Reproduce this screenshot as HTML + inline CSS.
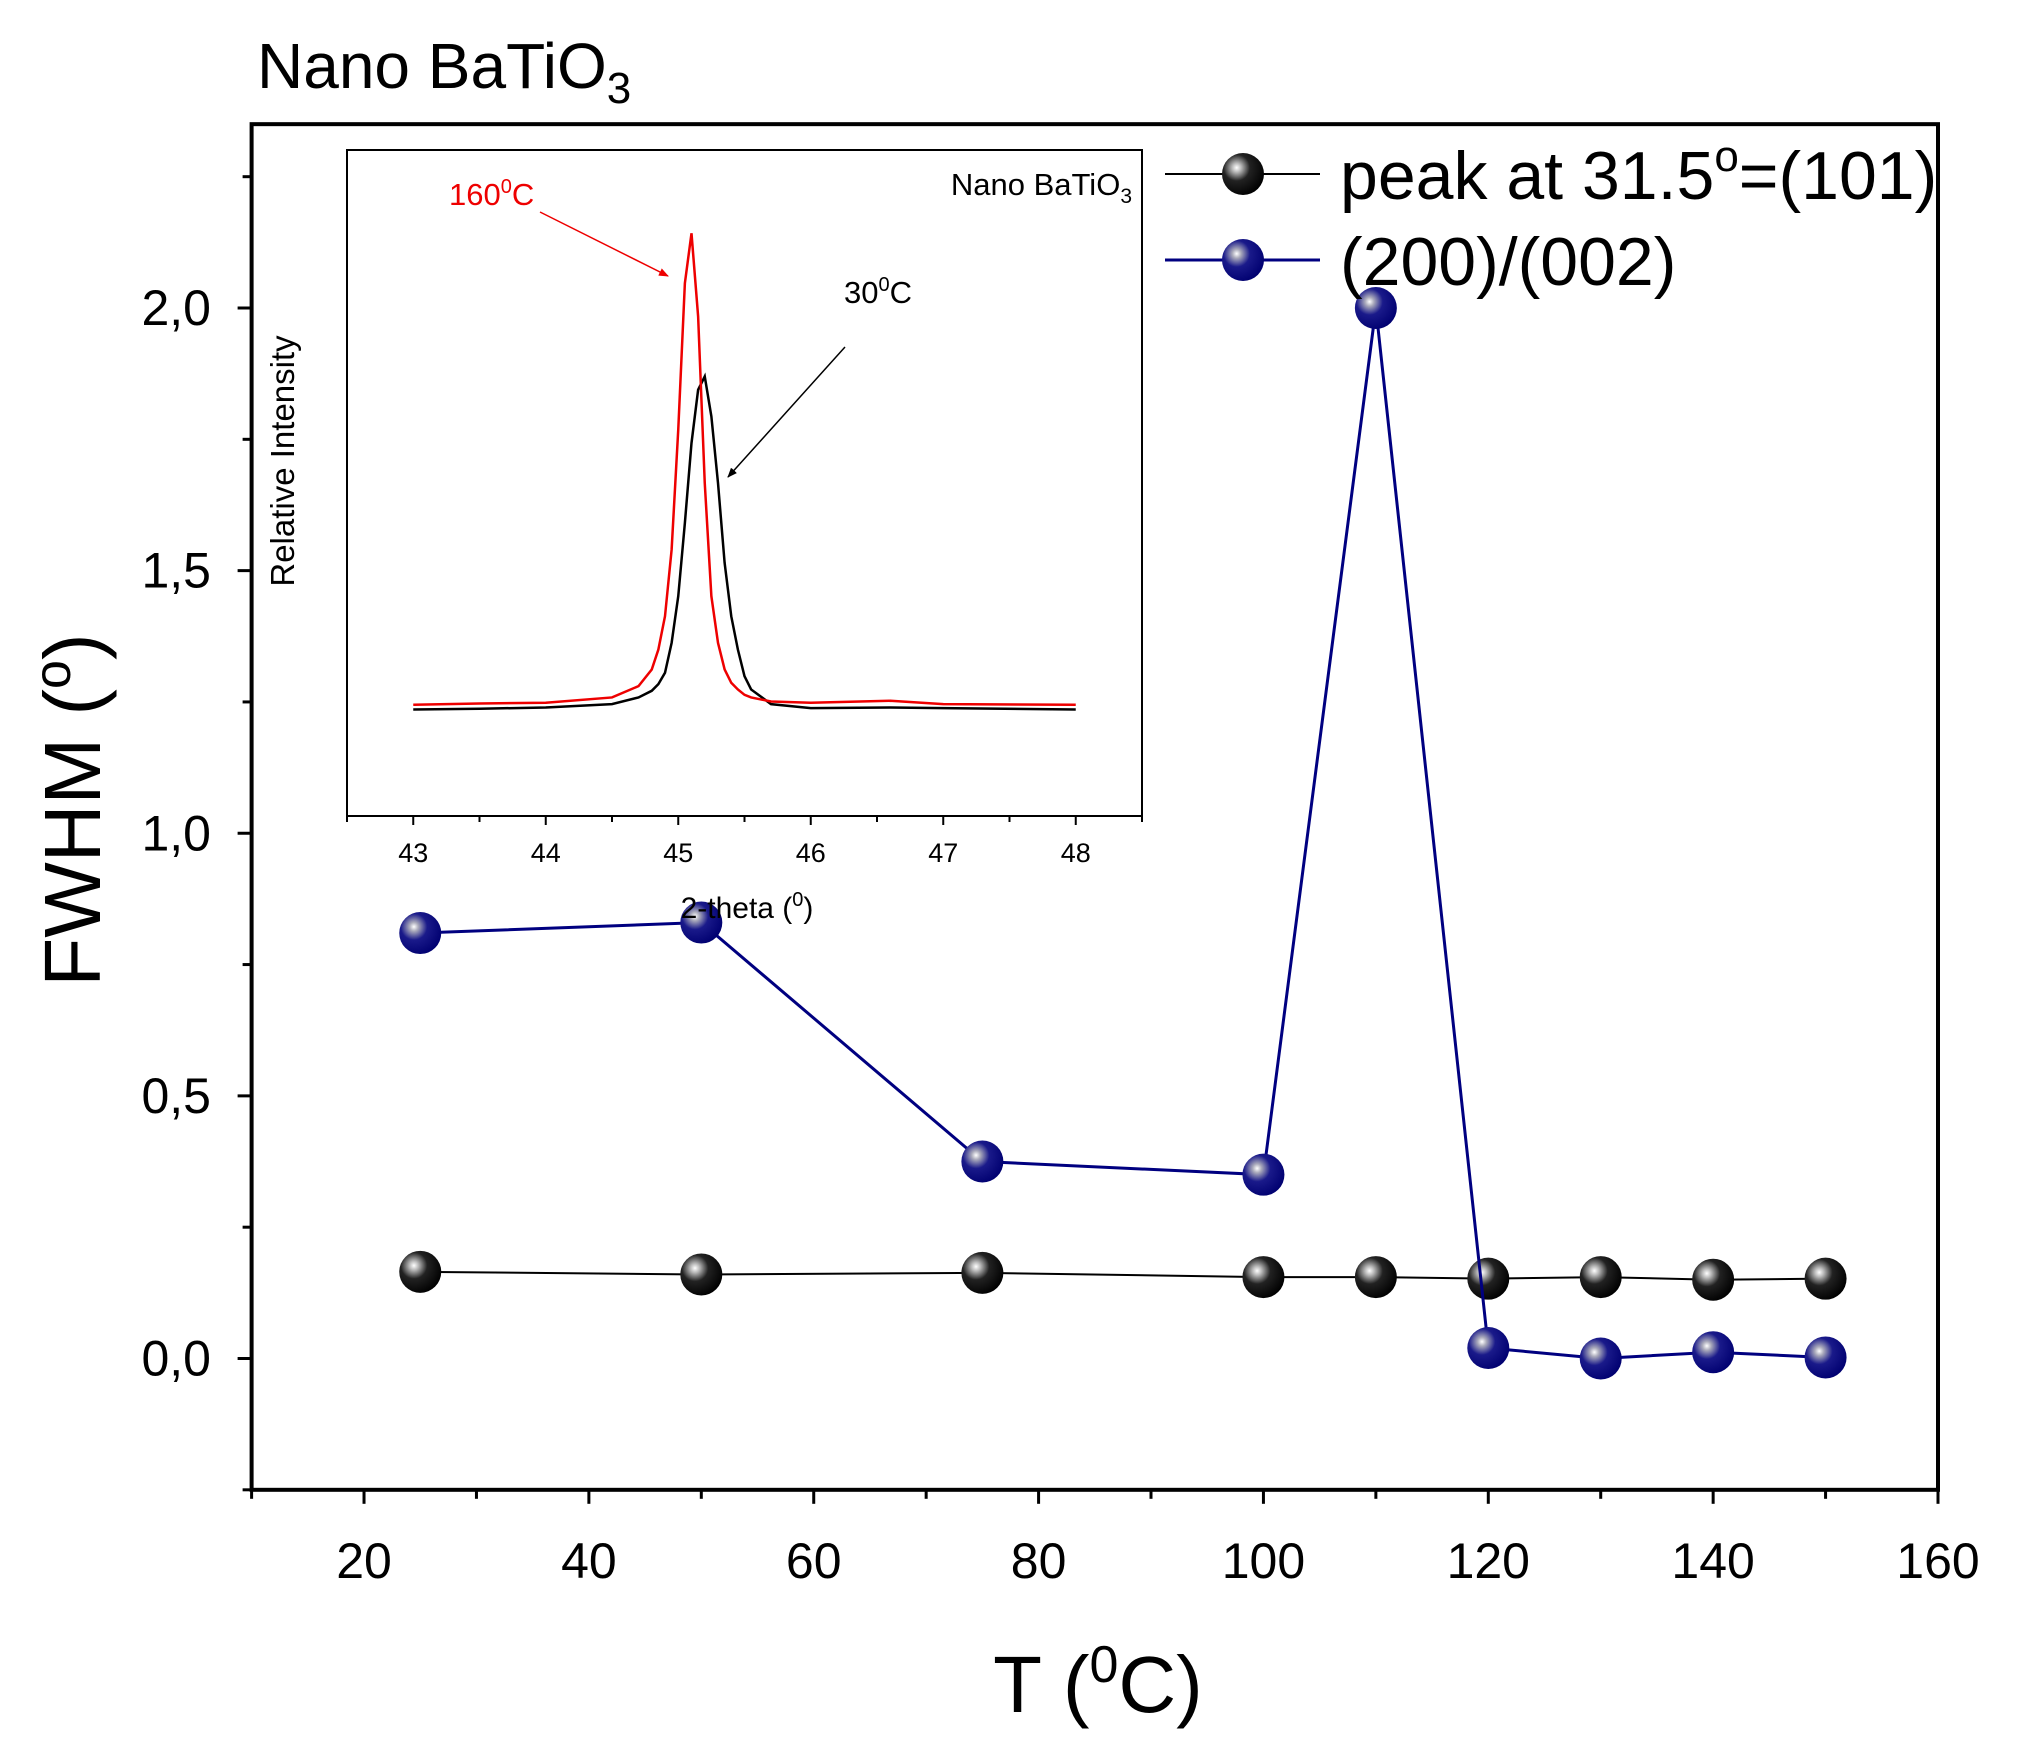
<!DOCTYPE html>
<html><head><meta charset="utf-8"><style>
html,body{margin:0;padding:0;background:#fff}
svg{display:block;font-family:"Liberation Sans",Arial,sans-serif}
</style></head><body>
<svg id="chart" width="2028" height="1752" viewBox="0 0 2028 1752" xmlns="http://www.w3.org/2000/svg">
<defs>
<radialGradient id="gBlack" cx="0.35" cy="0.35" r="0.7"><stop offset="0" stop-color="#fff"/><stop offset="0.15" stop-color="#bbb"/><stop offset="0.45" stop-color="#222"/><stop offset="1" stop-color="#000"/></radialGradient>
<radialGradient id="gBlue" cx="0.35" cy="0.35" r="0.7"><stop offset="0" stop-color="#fff"/><stop offset="0.15" stop-color="#aab"/><stop offset="0.45" stop-color="#1a1a8a"/><stop offset="1" stop-color="#000070"/></radialGradient>
<marker id="arR" markerWidth="10" markerHeight="8" refX="9" refY="4" orient="auto" markerUnits="userSpaceOnUse"><path d="M0,0 L10,4 L0,8 z" fill="#e00"/></marker>
<marker id="arK" markerWidth="10" markerHeight="8" refX="9" refY="4" orient="auto" markerUnits="userSpaceOnUse"><path d="M0,0 L10,4 L0,8 z" fill="#000"/></marker>
</defs>
<text x="257" y="88" font-size="64">Nano BaTiO<tspan font-size="44" dy="15">3</tspan></text>
<g id="main"></g>
<g id="inset"></g>
<text transform="translate(100,810) rotate(-90)" text-anchor="middle" font-size="80">FWHM (<tspan font-size="52" dy="-30">o</tspan><tspan dy="30">)</tspan></text>
<text x="1098" y="1712" text-anchor="middle" font-size="80">T (<tspan font-size="52" dy="-30">0</tspan><tspan dy="30">C)</tspan></text>
</svg>
<script>
const NS="http://www.w3.org/2000/svg";
const temps=[25,50,75,100,110,120,130,140,150];
const fwhm101=[0.165,0.16,0.163,0.155,0.155,0.152,0.155,0.15,0.152];
const fwhm200=[0.81,0.83,0.375,0.35,2.0,0.02,0.0,0.012,0.002];
const xTicks=[20,40,60,80,100,120,140,160];
const yTicks=[0,0.5,1.0,1.5,2.0];
const yTickLabels=["0,0","0,5","1,0","1,5","2,0"];
const insetX=[43,43.5,44,44.5,44.7,44.8,44.85,44.9,44.95,45,45.05,45.1,45.15,45.2,45.25,45.3,45.35,45.4,45.45,45.5,45.55,45.7,46,46.6,47,48];
const insetRed=[0.167,0.169,0.17,0.178,0.195,0.22,0.25,0.3,0.4,0.58,0.8,0.875,0.75,0.5,0.33,0.26,0.22,0.2,0.19,0.182,0.178,0.172,0.17,0.173,0.168,0.167];
const insetBlack=[0.16,0.161,0.163,0.168,0.178,0.188,0.198,0.215,0.26,0.33,0.44,0.56,0.64,0.66,0.6,0.5,0.38,0.3,0.25,0.21,0.19,0.168,0.162,0.163,0.162,0.16];
const insetTicks=[43,44,45,46,47,48];

function el(tag,attrs,parent){const e=document.createElementNS(NS,tag);for(const k in attrs)e.setAttribute(k,attrs[k]);parent.appendChild(e);return e;}
const L=251.6,R=1938;
const Y0=1358.5,PU=525.25;
const B=Y0+0.25*PU,T=Y0-2.35*PU;
const sx=v=>L+(v-10)/150*(R-L);
const sy=v=>Y0-v*PU;
const g=document.getElementById('main');
let f=el('rect',{x:L,y:T,width:R-L,height:B-T,fill:'none',stroke:'#000','stroke-width':4},g);


for(let v=10;v<=160;v+=10){const major=v%20===0;let t=el('line',{x1:sx(v),x2:sx(v),y1:B,y2:B+(major?14:9),stroke:'#000','stroke-width':3},g);

}
xTicks.forEach(v=>{let t=el('text',{x:sx(v),y:1578,'text-anchor':'middle','font-size':50},g);t.textContent=v;

});
for(let i=-1;i<=9;i++){const v=i*0.25;const major=i%2===0;let t=el('line',{x1:L,x2:L-(major?14:9),y1:sy(v),y2:sy(v),stroke:'#000','stroke-width':3},g);

}
yTicks.forEach((v,i)=>{let t=el('text',{x:211,y:sy(v)+17,'text-anchor':'end','font-size':50},g);t.textContent=yTickLabels[i];

});
function series(vals,color,grad,w,name){
 let p=el('polyline',{points:temps.map((t,i)=>sx(t)+','+sy(vals[i])).join(' '),fill:'none',stroke:color,'stroke-width':w},g);
 
 
 temps.forEach((t,i)=>{let c=el('circle',{cx:sx(t),cy:sy(vals[i]),r:21,fill:'url(#'+grad+')'},g);
 
 });
}
series(fwhm101,'#000','gBlack',2,'peak-101');
series(fwhm200,'#000080','gBlue',3,'peak-200-002');
function legend(y,color,grad,w,label,name){
 const lg=el('g',{},g);
 
 
 el('line',{x1:1165,x2:1320,y1:y,y2:y,stroke:color,'stroke-width':w},lg);
 el('circle',{cx:1243,cy:y,r:21,fill:'url(#'+grad+')'},lg);
 const t=el('text',{x:1340,y:y+25,'font-size':68},lg);t.innerHTML=label;
}
legend(174,'#000','gBlack',2,'peak at 31.5<tspan font-size="44" dy="-28">o</tspan><tspan dy="28">=(101)</tspan>','101');
legend(260,'#000080','gBlue',3,'(200)/(002)','200');
const ig=document.getElementById('inset');
const IL=347,IR=1142,IT=150,IB=816;
const ix=v=>IL+(v-42.5)/6*(IR-IL);
const iy=v=>IB-v*(IB-IT);
let ir=el('rect',{x:IL,y:IT,width:IR-IL,height:IB-IT,fill:'#fff',stroke:'#000','stroke-width':2},ig);


for(let v=42.5;v<=48.5001;v+=0.5){const major=Math.abs(v-Math.round(v))<1e-6;let t=el('line',{x1:ix(v),x2:ix(v),y1:IB,y2:IB+(major?9:6),stroke:'#000','stroke-width':2},ig);

}
insetTicks.forEach(v=>{let t=el('text',{x:ix(v),y:862,'text-anchor':'middle','font-size':27},ig);t.textContent=v;

});
let pb=el('polyline',{points:insetX.map((x,i)=>ix(x)+','+iy(insetBlack[i])).join(' '),fill:'none',stroke:'#000','stroke-width':2.5},ig);


let pr=el('polyline',{points:insetX.map((x,i)=>ix(x)+','+iy(insetRed[i])).join(' '),fill:'none',stroke:'#e00','stroke-width':2.5},ig);


let a1=el('line',{x1:540,y1:212,x2:668,y2:276,stroke:'#e00','stroke-width':1.5,'marker-end':'url(#arR)'},ig);


let a2=el('line',{x1:845,y1:347,x2:728,y2:477,stroke:'#000','stroke-width':1.5,'marker-end':'url(#arK)'},ig);


function itext(x,y,html,attrs,name){const t=el('text',Object.assign({x:x,y:y},attrs),ig);t.innerHTML=html;

}
itext(449,205,'160<tspan font-size="20" dy="-12">0</tspan><tspan dy="12">C</tspan>',{'font-size':31,fill:'#e00'},'inset-160c-label');
itext(844,303,'30<tspan font-size="20" dy="-12">0</tspan><tspan dy="12">C</tspan>',{'font-size':31},'inset-30c-label');
itext(1132,195,'Nano BaTiO<tspan font-size="21" dy="8">3</tspan>',{'font-size':31,'text-anchor':'end'},'inset-title');
itext(747,918,'2-theta (<tspan font-size="20" dy="-12">0</tspan><tspan dy="12">)</tspan>',{'font-size':30,'text-anchor':'middle'},'inset-x-axis-title');
const yl=el('text',{transform:'translate(294,461) rotate(-90)','text-anchor':'middle','font-size':33},ig);
yl.textContent='Relative Intensity';


</script>
</body></html>
